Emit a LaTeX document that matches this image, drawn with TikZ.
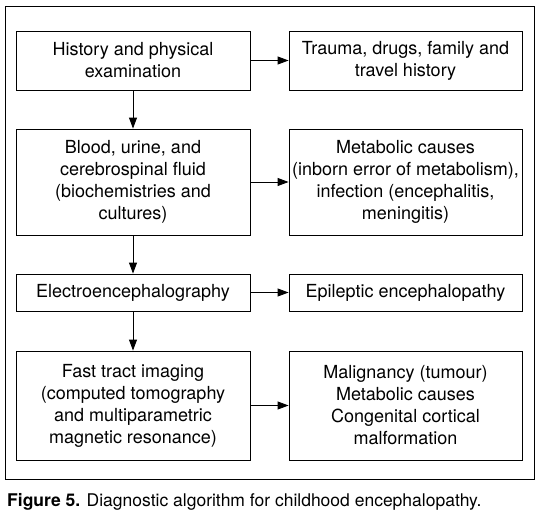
\documentclass[tikz,border=0pt]{standalone}
\usepackage{fontspec}
\setmainfont{TeX Gyre Heros}
\usetikzlibrary{arrows.meta,positioning}

\begin{document}
\begin{tikzpicture}[x=1pt, y=-1pt, >={Triangle[length=11pt,width=8pt]},
    stepbox/.style={draw, line width=0.9pt, align=center, minimum width=234pt, inner sep=2pt, font=\fontsize{18}{22}\selectfont}]
    \useasboundingbox (0,0) rectangle (541,519);
    % outer frame
    \draw[line width=0.9pt] (5,6) rectangle (534,479);
    % left column
    \node[stepbox, minimum height=59pt] (hist) at (133,60.5) {History and physical\\examination};
    \node[stepbox, minimum height=106pt] (blood) at (133,182) {Blood, urine, and\\cerebrospinal fluid\\(biochemistries and\\cultures)};
    \node[stepbox, minimum height=37pt] (eeg) at (133,292.5) {Electroencephalography};
    \node[stepbox, minimum height=109pt] (imaging) at (133,405.5) {Fast tract imaging\\(computed tomography\\and multiparametric\\magnetic resonance)};
    % right column
    \node[stepbox, minimum width=233pt, minimum height=59pt] (trauma) at (405.5,60.5) {Trauma, drugs, family and\\travel history};
    \node[stepbox, minimum width=233pt, minimum height=106pt] (metab) at (405.5,182) {Metabolic causes\\(inborn error of metabolism),\\infection (encephalitis,\\meningitis)};
    \node[stepbox, minimum width=233pt, minimum height=37pt] (epi) at (405.5,292.5) {Epileptic encephalopathy};
    \node[stepbox, minimum width=233pt, minimum height=109pt] (malig) at (405.5,405.5) {Malignancy (tumour)\\Metabolic causes\\Congenital cortical\\malformation};
    \draw[->, line width=0.9pt] (hist) -- (blood);
    \draw[->, line width=0.9pt] (blood) -- (eeg);
    \draw[->, line width=0.9pt] (eeg) -- (imaging);
    \draw[->, line width=0.9pt] (hist) -- (trauma);
    \draw[->, line width=0.9pt] (blood) -- (metab);
    \draw[->, line width=0.9pt] (eeg) -- (epi);
    \draw[->, line width=0.9pt] (imaging) -- (malig);
    % caption
    \node[anchor=base west, inner sep=0pt, font=\fontsize{17.5}{22}\selectfont] (caption) at (7,506) {\textbf{Figure 5.} Diagnostic algorithm for childhood encephalopathy.};
\end{tikzpicture}
\end{document}
